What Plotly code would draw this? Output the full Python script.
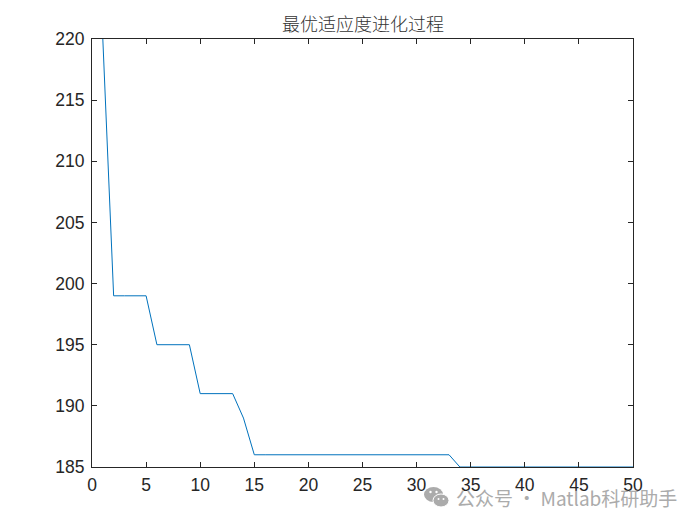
import plotly.graph_objects as go

generations = list(range(1, 51))
best_fitness = [220, 199, 199, 199, 199, 195, 195, 195, 195, 191,
                191, 191, 191, 189, 186, 186, 186, 186, 186, 186,
                186, 186, 186, 186, 186, 186, 186, 186, 186, 186,
                186, 186, 186, 185, 185, 185, 185, 185, 185, 185,
                185, 185, 185, 185, 185, 185, 185, 185, 185, 185]
x_ticks = [0, 5, 10, 15, 20, 25, 30, 35, 40, 45, 50]
y_ticks = [185, 190, 195, 200, 205, 210, 215, 220]
title_text = "最优适应度进化过程"
watermark_text = "公众号 · Matlab科研助手"

W, H = 700, 525
L, R, T, B = 84, 75, 31, 66
PW, PH = W - L - R, H - T - B


def px(x):
    return (x - L) / PW


def py(y):
    return (H - B - y) / PH


fig = go.Figure(go.Scatter(
    x=generations, y=best_fitness, mode="lines",
    line=dict(color="#0072BD", width=1), showlegend=False, hoverinfo="skip",
))

axis_common = dict(
    showline=True, linecolor="#262626", linewidth=1, mirror="ticks",
    ticks="inside", ticklen=5, tickwidth=1, tickcolor="#262626",
    showgrid=False, zeroline=False,
    tickfont=dict(family="Liberation Sans, Arial, sans-serif", size=17.5, color="#262626"),
)


def bubble(cx, cy, rx, ry, fill, line=None):
    return dict(type="circle", xref="paper", yref="paper", xsizemode="pixel", ysizemode="pixel",
                xanchor=px(cx), yanchor=py(cy), x0=-rx, x1=rx, y0=-ry, y1=ry,
                fillcolor=fill, line=line or dict(width=0))


GREY = "#ababab"
fig.update_layout(
    width=W, height=H, autosize=False,
    paper_bgcolor="white", plot_bgcolor="white",
    margin=dict(l=L, r=R, t=T, b=B),
    title=dict(
        text=title_text, x=355 / W, xanchor="center", y=1 - 17 / H, yanchor="middle",
        font=dict(family="Noto Sans CJK SC", size=18, color="#333333", weight=300),
    ),
    xaxis=dict(range=[0, 50], tickvals=x_ticks, ticklabelstandoff=2, **axis_common),
    yaxis=dict(range=[185, 220], tickvals=y_ticks, ticklabelstandoff=3, **axis_common),
    annotations=[dict(
        text=watermark_text, xref="paper", yref="paper",
        x=px(671), y=py(489), xanchor="right", yanchor="middle",
        showarrow=False,
        font=dict(family="Noto Sans CJK SC", size=19, color=GREY),
    )],
    shapes=[
        bubble(425.5, 486.5, 9.5, 7.5, GREY),
        bubble(433, 492.5, 8, 6.5, GREY, dict(color="white", width=1)),
        bubble(422.5, 484, 1.2, 1.2, "white"),
        bubble(428.5, 484, 1.2, 1.2, "white"),
        bubble(430.5, 491, 1, 1, "white"),
        bubble(435.5, 491, 1, 1, "white"),
    ],
)

fig.write_html("out.html")
